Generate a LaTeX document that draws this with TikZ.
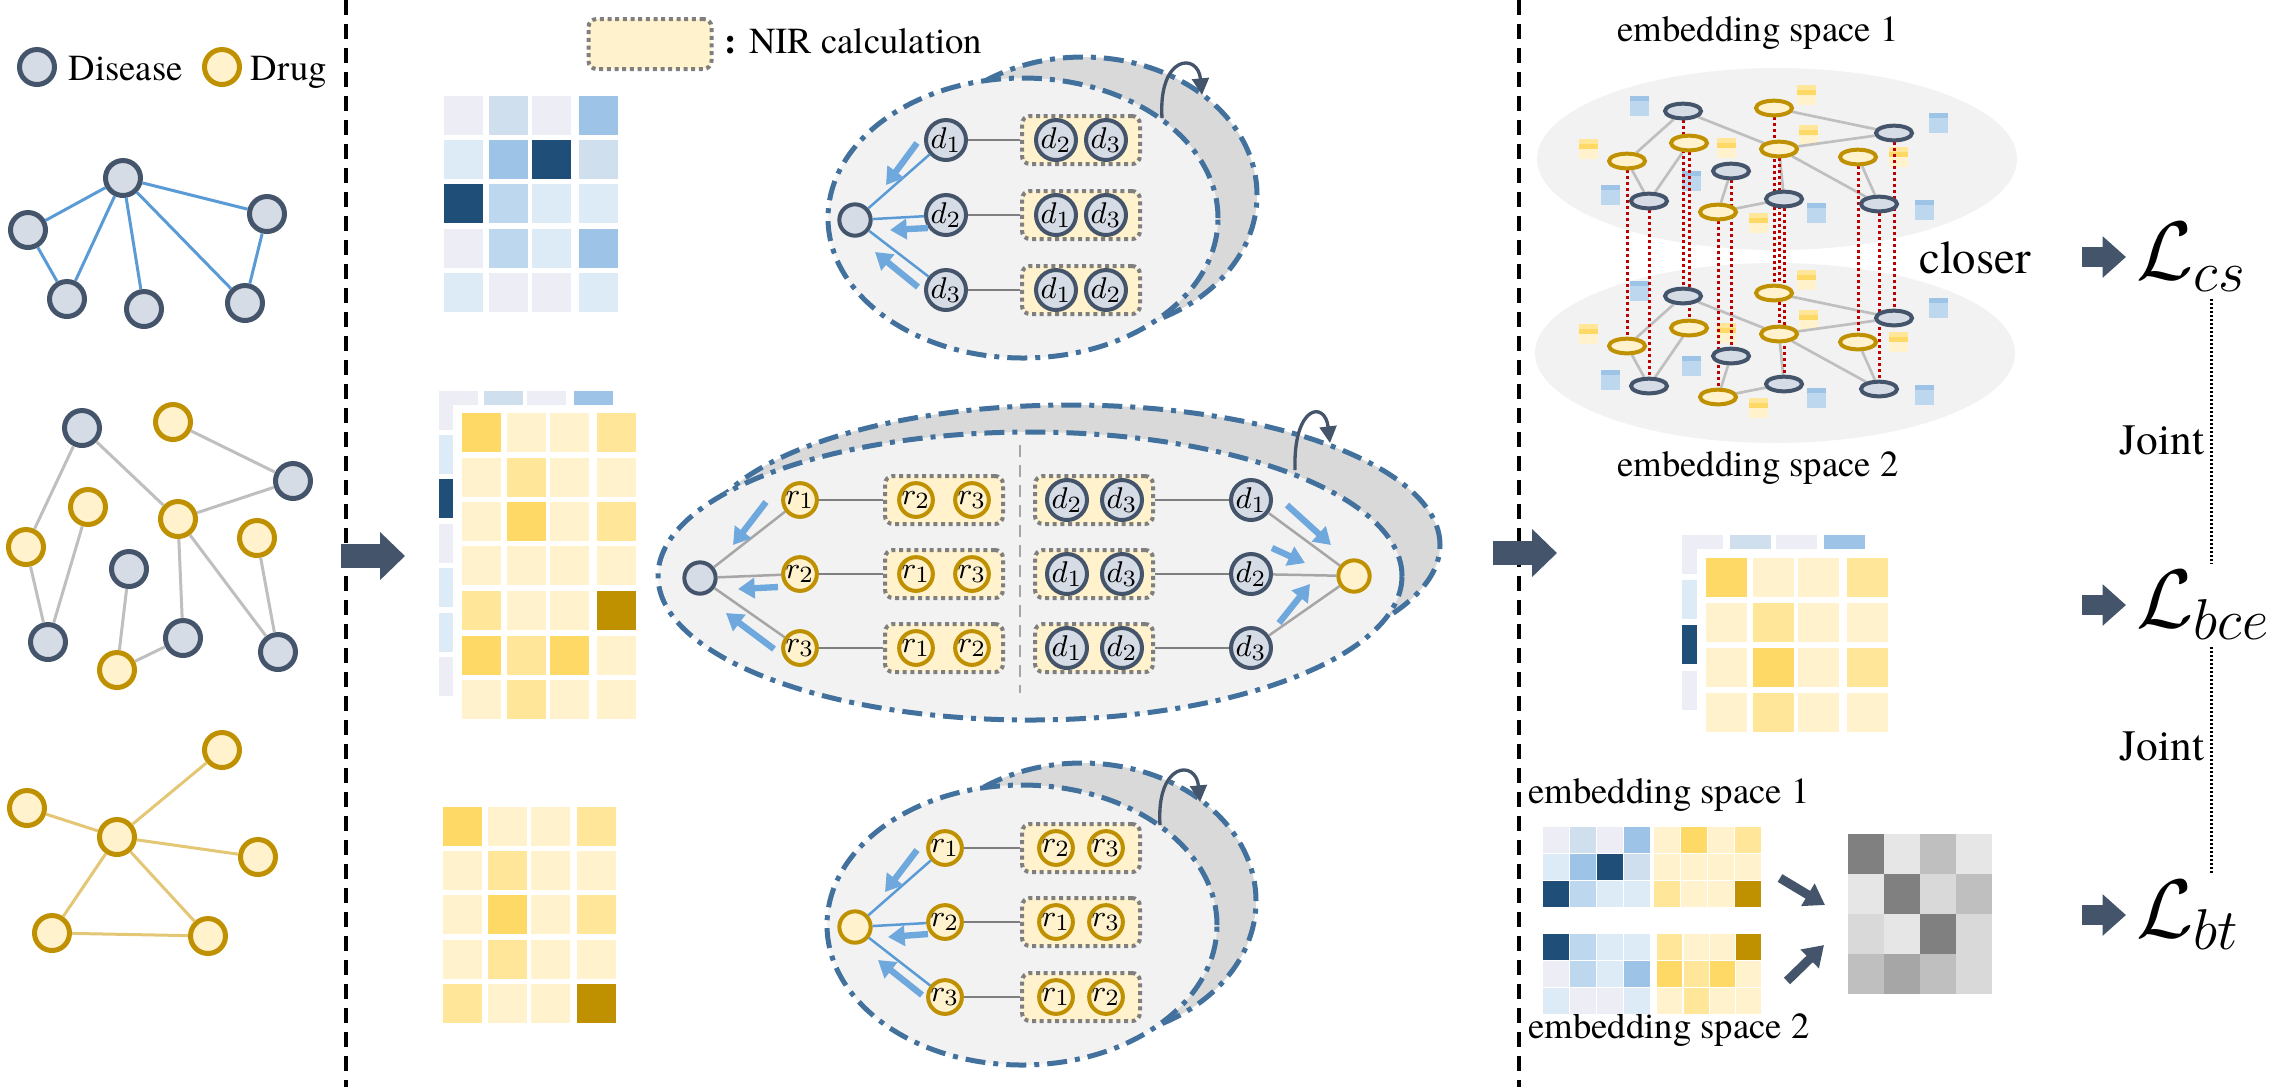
\documentclass[tikz,border=0pt]{standalone}
\usepackage{fontspec}
\setmainfont{texgyretermes}[Extension=.otf, UprightFont=*-regular, BoldFont=*-bold, ItalicFont=*-italic, BoldItalicFont=*-bolditalic]
\usetikzlibrary{arrows.meta,shapes.geometric}

\definecolor{disfill}{HTML}{D6DCE5}
\definecolor{disdraw}{HTML}{44546A}
\definecolor{drugfill}{HTML}{FFF2CC}
\definecolor{drugdraw}{HTML}{BF9000}
\definecolor{edgeblue}{HTML}{5B9BD5}
\definecolor{edgegray}{HTML}{BFBFBF}
\definecolor{edgegold}{HTML}{E3C774}
\definecolor{ringblue}{HTML}{41719C}
\definecolor{pushblue}{HTML}{6FA8DC}
\definecolor{backgray}{HTML}{D9D9D9}
\definecolor{frontgray}{HTML}{F2F2F2}
\definecolor{nirgray}{HTML}{7F7F7F}
\definecolor{b0}{HTML}{EDEDF5}
\definecolor{b1}{HTML}{DDEBF7}
\definecolor{b2}{HTML}{CFDFEE}
\definecolor{b3}{HTML}{BDD7EE}
\definecolor{b4}{HTML}{9DC3E6}
\definecolor{b5}{HTML}{1F4E79}
\definecolor{y0}{HTML}{FFF2CC}
\definecolor{y1}{HTML}{FFE699}
\definecolor{y2}{HTML}{FFD966}
\definecolor{y3}{HTML}{BF9000}
\definecolor{g0}{HTML}{E6E6E6}
\definecolor{g1}{HTML}{D9D9D9}
\definecolor{g2}{HTML}{BFBFBF}
\definecolor{g3}{HTML}{A6A6A6}
\definecolor{g4}{HTML}{808080}
\definecolor{pairred}{HTML}{C00000}

\pgfdeclarelayer{back}
\pgfdeclarelayer{links}
\pgfsetlayers{back,links,main}

\begin{document}
\begin{tikzpicture}[x=0.3pt, y=-0.3pt, font=\fontsize{11}{13}\selectfont,
  dis/.style={circle, draw=disdraw, fill=disfill, line width=1.5pt, minimum size=10.5pt, inner sep=0pt},
  drug/.style={dis, draw=drugdraw, fill=drugfill},
  dsm/.style={dis, line width=1.2pt, minimum size=9.4pt, font=\fontsize{9.5}{10}\selectfont},
  rsm/.style={dsm, draw=drugdraw, fill=drugfill},
  nirbox/.style={draw=nirgray, fill=drugfill, line width=1.2pt, dash pattern=on 1.2pt off 1.1pt, rounded corners=2.4pt, minimum width=35.4pt, minimum height=14.4pt, inner sep=0pt},
  ring/.style={draw=ringblue, line width=1.5pt, dash pattern=on 6pt off 2.4pt on 1.5pt off 2.4pt},
  edis/.style={ellipse, draw=disdraw, fill=disfill, line width=1.2pt, minimum width=10.8pt, minimum height=4.4pt, inner sep=0pt},
  edrug/.style={edis, draw=drugdraw, fill=drugfill},
  blueline/.style={draw=edgeblue, line width=0.9pt},
  grayline/.style={draw=edgegray, line width=0.9pt},
  goldline/.style={draw=edgegold, line width=0.9pt},
  eline/.style={draw=edgegray, line width=0.8pt},
  tie/.style={draw=nirgray, line width=0.75pt},
  fanblue/.style={draw=edgeblue, line width=0.75pt},
  fangray/.style={draw=g3, line width=0.75pt},
  pushline/.style={draw=pushblue, line width=1.9pt, -{Triangle[width=6pt,length=5pt]}},
  loopback/.style={draw=disdraw, line width=1pt, -{Triangle[width=5pt,length=5pt]}},
  flow/.style={draw=disdraw, line width=7pt, -{Triangle[width=14pt,length=7.5pt]}},
  lossflow/.style={draw=disdraw, line width=6pt, -{Triangle[width=12pt,length=7pt]}},
  pairline/.style={draw=pairred, line width=0.9pt, dash pattern=on 0.9pt off 0.9pt},
  divider/.style={draw=black, line width=1pt, dash pattern=on 4.5pt off 2.7pt},
  jointline/.style={draw=black, line width=0.9pt, dash pattern=on 0.6pt off 0.6pt},
  loss/.style={anchor=west, inner sep=0pt, font=\fontsize{24}{26}\selectfont}]

\useasboundingbox (0,0) rectangle (2291,1087);

% legend
\node[dis] (kdis) at (37,67) {};
\node[anchor=base west, inner sep=0pt] (kdist) at (68,80) {Disease};
\node[drug] (kdrug) at (222,67) {};
\node[anchor=base west, inner sep=0pt] (kdrugt) at (250,80) {Drug};

% disease graph
\foreach \n/\x/\y in {t/123/178, l/28/230, r/267/214, a/67/299, b/144/309, c/245/303}
  \node[dis] (p\n) at (\x,\y) {};
\draw[blueline] (pt) -- (pl);
\draw[blueline] (pt) -- (pr);
\draw[blueline] (pt) -- (pa);
\draw[blueline] (pt) -- (pb);
\draw[blueline] (pt) -- (pc);
\draw[blueline] (pl) -- (pa);
\draw[blueline] (pr) -- (pc);

% disease-drug graph
\foreach \n/\x/\y in {1/82/428, 2/293/481, 3/129/569, 4/48/642, 5/183/638, 6/278/652}
  \node[dis] (qd\n) at (\x,\y) {};
\foreach \n/\x/\y in {1/173/422, 2/88/507, 3/178/519, 4/26/547, 5/257/538, 6/117/670}
  \node[drug] (qr\n) at (\x,\y) {};
\draw[grayline] (qd1) -- (qr4);
\draw[grayline] (qd1) -- (qr3);
\draw[grayline] (qr1) -- (qd2);
\draw[grayline] (qd2) -- (qr3);
\draw[grayline] (qr2) -- (qd4);
\draw[grayline] (qr4) -- (qd4);
\draw[grayline] (qr3) -- (qd5);
\draw[grayline] (qr3) -- (qd6);
\draw[grayline] (qr5) -- (qd6);
\draw[grayline] (qd3) -- (qr6);
\draw[grayline] (qr6) -- (qd5);

% drug graph
\foreach \n/\x/\y in {a/222/750, b/27/808, c/117/837, e/258/857, f/52/933, g/208/936}
  \node[drug] (s\n) at (\x,\y) {};
\draw[goldline] (sc) -- (sa);
\draw[goldline] (sc) -- (sb);
\draw[goldline] (sc) -- (se);
\draw[goldline] (sc) -- (sf);
\draw[goldline] (sc) -- (sg);
\draw[goldline] (sf) -- (sg);

\draw[divider] (346,0) -- (346,1087);
\draw[divider] (1519,0) -- (1519,1087);
\draw[flow] (341,556) -- (405,556);
\draw[flow] (1493,553) -- (1557,553);

% feature matrices
\foreach \y/\cA/\cB/\cC/\cD in {96/b0/b2/b0/b4, 140/b1/b4/b5/b2, 184/b5/b3/b1/b1, 229/b0/b3/b1/b4, 273/b1/b0/b0/b1}
  \foreach \x/\c in {444/\cA, 489/\cB, 532/\cC, 579/\cD}
    \fill[fill=\c] (\x,\y) rectangle ++(39,39);

\fill[b0] (439,391) rectangle (478,405);
\fill[b0] (439,391) rectangle (453,430);
\foreach \x/\c in {484/b2, 527/b0, 574/b4}
  \fill[fill=\c] (\x,391) rectangle ++(39,14);
\foreach \y/\c in {435/b1, 479/b5, 524/b0, 568/b1, 613/b1, 657/b0}
  \fill[fill=\c] (439,\y) rectangle ++(14,39);
\foreach \y/\cA/\cB/\cC/\cD in {413/y2/y0/y0/y1, 458/y0/y1/y0/y0, 502/y0/y2/y0/y1, 546/y0/y0/y0/y0, 591/y1/y0/y0/y3, 636/y2/y1/y2/y0, 680/y0/y1/y0/y0}
  \foreach \x/\c in {462/\cA, 507/\cB, 550/\cC, 597/\cD}
    \fill[fill=\c] (\x,\y) rectangle ++(39,39);

\foreach \y/\cA/\cB/\cC/\cD in {807/y2/y0/y0/y1, 851/y0/y1/y0/y0, 895/y0/y2/y0/y1, 940/y0/y1/y0/y0, 984/y1/y0/y0/y3}
  \foreach \x/\c in {443/\cA, 488/\cB, 531/\cC, 577/\cD}
    \fill[fill=\c] (\x,\y) rectangle ++(39,39);

% NIR key
\node[nirbox, minimum width=36.9pt, minimum height=15pt] (nirkey) at (650,44) {};
\node[anchor=base west, inner sep=0pt] (nirtext) at (724,53) {\textbf{:} NIR calculation};

% disease view
\begin{pgfonlayer}{back}
  \draw[ring, fill=backgray] (1083,195) ellipse [x radius=52.2pt, y radius=41.4pt];
  \draw[ring, fill=frontgray] (1023,218) ellipse [x radius=58.5pt, y radius=42pt];
  \draw[ring, fill=backgray] (1070,545) ellipse [x radius=111pt, y radius=42pt];
  \draw[ring, fill=frontgray] (1030,576) ellipse [x radius=111.6pt, y radius=43.2pt];
  \draw[ring, fill=backgray] (1082,901) ellipse [x radius=52.2pt, y radius=41.4pt];
  \draw[ring, fill=frontgray] (1022,925) ellipse [x radius=58.5pt, y radius=42pt];
\end{pgfonlayer}

\node[dsm] (tc) at (855,220) {};
\foreach \i/\y/\p/\q in {1/140/2/3, 2/215/1/3, 3/290/1/2} {
  \node[dsm] (td\i) at (946,\y) {$d_\i$};
  \node[nirbox] (tb\i) at (1081,\y) {};
  \node[dsm] (tbp\i) at (1056,\y) {$d_\p$};
  \node[dsm] (tbq\i) at (1106,\y) {$d_\q$};
  \draw[tie] (td\i) -- (tb\i);
  \draw[fanblue] (tc) -- (td\i);
}
\draw[pushline] (917,143) -- (886,185);
\draw[pushline] (928,228) -- (890,230);
\draw[pushline] (918,287) -- (875,252);
\draw[loopback] (1162,118) .. controls (1158,55) and (1198,52) .. (1202,95);

% association view
\node[dsm] (mc) at (700,578) {};
\node[rsm] (mr) at (1354,576) {};
\foreach \i/\y/\p/\q in {1/500/2/3, 2/574/1/3, 3/648/1/2} {
  \node[rsm] (mr\i) at (800,\y) {$r_\i$};
  \node[nirbox] (mlb\i) at (944,\y) {};
  \node[rsm] (mlp\i) at (916,\y) {$r_\p$};
  \node[rsm] (mlq\i) at (972,\y) {$r_\q$};
  \node[nirbox] (mrb\i) at (1094,\y) {};
  \node[dsm] (mrp\i) at (1067,\y) {$d_\p$};
  \node[dsm] (mrq\i) at (1122,\y) {$d_\q$};
  \node[dsm] (md\i) at (1251,\y) {$d_\i$};
  \draw[tie] (mr\i) -- (mlb\i);
  \draw[tie] (mrb\i) -- (md\i);
  \draw[fangray] (mc) -- (mr\i);
  \draw[fangray] (md\i) -- (mr);
}
\draw[draw=g3, line width=0.6pt, dash pattern=on 3.6pt off 2.4pt] (1020,445) -- (1020,693);
\draw[pushline] (766,502) -- (733,545);
\draw[pushline] (778,587) -- (738,589);
\draw[pushline] (774,649) -- (726,613);
\draw[pushline] (1287,505) -- (1331,545);
\draw[pushline] (1272,548) -- (1305,563);
\draw[pushline] (1279,623) -- (1310,584);
\draw[loopback] (1295,470) .. controls (1293,405) and (1325,400) .. (1330,443);

% drug view
\node[rsm] (bc) at (855,927) {};
\foreach \i/\y/\p/\q in {1/848/2/3, 2/922/1/3, 3/997/1/2} {
  \node[rsm] (br\i) at (945,\y) {$r_\i$};
  \node[nirbox] (bb\i) at (1081,\y) {};
  \node[rsm] (bbp\i) at (1056,\y) {$r_\p$};
  \node[rsm] (bbq\i) at (1106,\y) {$r_\q$};
  \draw[tie] (br\i) -- (bb\i);
  \draw[fanblue] (bc) -- (br\i);
}
\draw[pushline] (917,850) -- (885,892);
\draw[pushline] (928,934) -- (888,937);
\draw[pushline] (922,995) -- (878,960);
\draw[loopback] (1160,825) .. controls (1156,762) and (1196,759) .. (1200,802);

% embedding spaces
\begin{pgfonlayer}{back}
  \fill[frontgray] (1777,159) ellipse [x radius=72pt, y radius=27.3pt];
  \fill[frontgray] (1775,353) ellipse [x radius=72pt, y radius=27pt];
  \foreach \dy in {0,185} {
    \foreach \x/\y in {1639/106, 1938/123, 1610/195, 1691/181, 1816/213, 1924/210} {
      \fill[b3] (\x-9.5,\y+\dy-10) rectangle ++(19,20);
      \fill[b4] (\x-9.5,\y+\dy-10) rectangle ++(19,5);
    }
    \foreach \x/\y in {1806/95, 1588/149, 1726/148, 1808/135, 1898/157, 1758/223} {
      \fill[y0] (\x-9.5,\y+\dy-10) rectangle ++(19,20);
      \fill[y1] (\x-9.5,\y+\dy-10) rectangle ++(19,5);
      \fill[y2] (\x-9.5,\y+\dy-5) rectangle ++(19,5);
    }
  }
\end{pgfonlayer}
\foreach \l/\dy in {a/0, b/185} {
  \foreach \n/\x/\y in {1/1683/111, 2/1894/133, 3/1731/171, 4/1649/201, 5/1784/199, 6/1879/204}
    \node[edis] (\l d\n) at (\x,\y+\dy) {};
  \foreach \n/\x/\y in {1/1774/108, 2/1689/143, 3/1627/161, 4/1779/149, 5/1858/157, 6/1718/212}
    \node[edrug] (\l r\n) at (\x,\y+\dy) {};
}
\begin{pgfonlayer}{links}
  \foreach \l in {a,b}
    \foreach \u/\v in {d1/r3, d1/r4, r3/d4, r2/d4, r1/d2, r4/d2, r4/d5, r4/d6, r5/d6, d3/r6, r6/d5}
      \draw[eline] (\l\u) -- (\l\v);
  \foreach \n in {d1,d2,d3,d4,d5,d6,r1,r2,r3,r4,r5,r6}
    \draw[pairline] (a\n) -- (b\n);
\end{pgfonlayer}
\node (es1) at (1758,33) {embedding space 1};
\node (es2) at (1758,468) {embedding space 2};
\node[font=\fontsize{14}{16}\selectfont] (closer) at (1975,258) {closer};

% prediction matrix
\fill[b0] (1682,535) rectangle (1723,549);
\fill[b0] (1682,535) rectangle (1697,574);
\foreach \x/\c in {1730/b2, 1776/b0, 1824/b4}
  \fill[fill=\c] (\x,535) rectangle ++(41,14);
\foreach \y/\c in {580/b1, 625/b5, 671/b0}
  \fill[fill=\c] (1682,\y) rectangle ++(15,39);
\foreach \y/\cA/\cB/\cC/\cD in {558/y2/y0/y0/y1, 603/y0/y1/y0/y0, 648/y0/y2/y0/y1, 693/y0/y1/y0/y0}
  \foreach \x/\c in {1706/\cA, 1753/\cB, 1798/\cC, 1847/\cD}
    \fill[fill=\c] (\x,\y) rectangle ++(41,39);

% twin embeddings
\node (ts1) at (1669,795) {embedding space 1};
\node (ts2) at (1669,1030) {embedding space 2};
\foreach \y/\cA/\cB/\cC/\cD in {827/b0/b2/b0/b4, 854/b1/b4/b5/b2, 881/b5/b3/b1/b1, 934/b5/b3/b1/b1, 961/b0/b3/b1/b4, 988/b1/b0/b0/b1}
  \foreach \x/\c in {1543/\cA, 1570/\cB, 1597/\cC, 1624/\cD}
    \fill[fill=\c] (\x,\y) rectangle ++(26,26);
\foreach \y/\cA/\cB/\cC/\cD in {827/y0/y2/y0/y1, 854/y0/y0/y0/y0, 881/y1/y0/y0/y3}
  \foreach \x/\c in {1654/\cA, 1681/\cB, 1708/\cC, 1735/\cD}
    \fill[fill=\c] (\x,\y) rectangle ++(26,26);
\foreach \y/\cA/\cB/\cC/\cD in {934/y1/y0/y0/y3, 961/y2/y1/y2/y0, 988/y0/y1/y0/y0}
  \foreach \x/\c in {1657/\cA, 1684/\cB, 1710/\cC, 1736/\cD}
    \fill[fill=\c] (\x,\y) rectangle ++(25,26);
\foreach \y/\cA/\cB/\cC/\cD in {834/g4/g0/g2/g0, 874/g0/g4/g1/g2, 914/g1/g0/g4/g1, 954/g2/g3/g2/g1}
  \foreach \x/\c in {1848/\cA, 1884/\cB, 1920/\cC, 1956/\cD}
    \fill[fill=\c] (\x,\y) rectangle ++(36,40);
\draw[draw=disdraw, line width=2.7pt, -{Triangle[width=7.5pt,length=6pt]}] (1780,878) -- (1825,905);
\draw[draw=disdraw, line width=2.7pt, -{Triangle[width=7.5pt,length=6pt]}] (1787,981) -- (1824,945);

% losses
\node[loss] (lcs) at (2136,257) {$\mathcal{L}_{cs}$};
\node[loss] (lbce) at (2136,605) {$\mathcal{L}_{bce}$};
\node[loss] (lbt) at (2136,915) {$\mathcal{L}_{bt}$};
\coordinate (acs) at (2082,257);
\coordinate (abce) at (2082,605);
\coordinate (abt) at (2082,915);
\coordinate (jx) at (2211,0);
\draw[lossflow] (acs) -- ([xshift=-3pt]lcs.west);
\draw[lossflow] (abce) -- ([xshift=-3pt]lbce.west);
\draw[lossflow] (abt) -- ([xshift=-3pt]lbt.west);
\draw[jointline] ([yshift=-2pt]lcs.south -| jx) -- ([yshift=2pt]lbce.north -| jx);
\draw[jointline] ([yshift=-2pt]lbce.south -| jx) -- ([yshift=2pt]lbt.north -| jx);
\node[font=\fontsize{13}{15}\selectfont] (j1) at (2162,440) {Joint};
\node[font=\fontsize{13}{15}\selectfont] (j2) at (2162,746) {Joint};

\end{tikzpicture}
\end{document}
